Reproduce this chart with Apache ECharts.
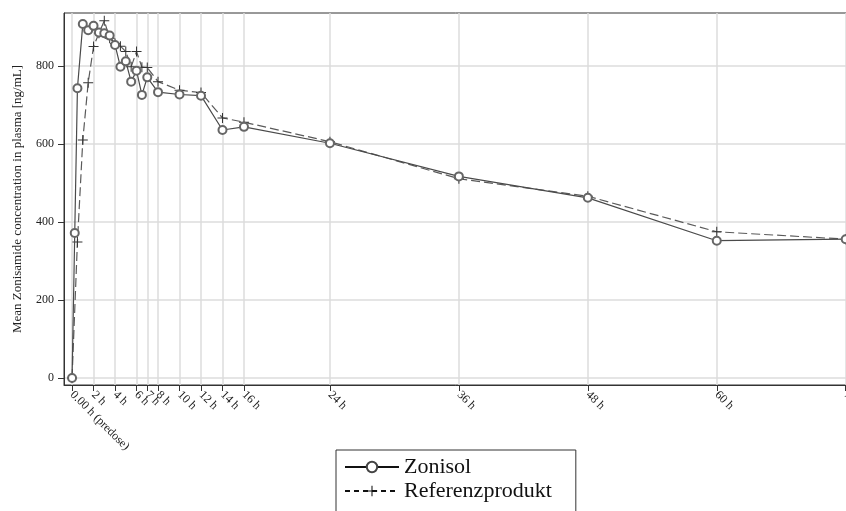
<!DOCTYPE html>
<html>
<head>
<meta charset="utf-8">
<script src="https://cdn.jsdelivr.net/npm/echarts@6/dist/echarts.min.js"></script>
<style>
  html, body { margin: 0; padding: 0; background: #fff; }
  #chart { width: 846px; height: 511px; }
</style>
</head>
<body>
<div id="chart"></div>
<script>
// sampling times in hours
const zonisolHours = [0, 0.25, 0.5, 1, 1.5, 2, 2.5, 3, 3.5, 4, 4.5, 5, 5.5, 6, 6.5, 7, 8, 10, 12, 14, 16, 24, 36, 48, 60, 72]
const zonisolConc = [0, 372, 743, 908, 892, 903, 886, 884, 878, 854, 798, 812, 760, 788, 726, 771, 733, 727, 724, 636, 644, 602, 517, 462, 352, 356]

const refHours = [0, 0.5, 1, 1.5, 2, 2.5, 3, 3.5, 4, 4.5, 5, 5.5, 6, 6.5, 7, 8, 10, 12, 14, 16, 24, 36, 48, 60, 72]
const refConc = [0, 349, 610, 757, 850, 884, 916, 871, 858, 851, 837, 798, 837, 797, 796, 760, 738, 732, 667, 656, 606, 511, 466, 375, 356]

const xTicks = [0, 2, 4, 6, 7, 8, 10, 12, 14, 16, 24, 36, 48, 60, 72]
const yTicks = [0, 200, 400, 600, 800]

const serif = 'Liberation Serif'

const myChart = echarts.init(document.getElementById('chart'))
const option = {
  animation: false,
  grid: {
    left: 64,
    top: 13,
    right: -4,
    bottom: 126,
    show: true,
    borderColor: '#333',
    borderWidth: 1,
    outerBoundsMode: 'none'
  },
  legend: {
    orient: 'vertical',
    left: 336,
    top: 450,
    height: 90,
    padding: [6, 24, 30, 8],
    itemGap: 2,
    itemWidth: 54,
    itemHeight: 13,
    borderColor: '#333',
    borderWidth: 1,
    textStyle: { fontFamily: serif, fontSize: 22, color: '#111' },
    data: [
      { name: 'Zonisol', lineStyle: { width: 2, color: '#111', type: 'solid' }, itemStyle: { color: '#444', borderColor: '#444', borderWidth: 1.2 } },
      { name: 'Referenzprodukt', lineStyle: { width: 2, color: '#111', type: [5, 4] }, itemStyle: { color: '#111' } }
    ]
  },
  xAxis: {
    type: 'value',
    min: -0.75,
    max: 72.4,
    axisLine: { onZero: false, lineStyle: { color: '#333', width: 1 } },
    axisTick: { customValues: xTicks, length: 6, lineStyle: { color: '#333' } },
    axisLabel: {
      customValues: xTicks,
      rotate: -45,
      margin: 8,
      fontFamily: serif,
      fontSize: 12,
      color: '#222',
      formatter: v => (v === 0 ? '0.00 h (predose)' : v + ' h')
    },
    splitLine: { show: true, lineStyle: { color: '#dcdcdc', width: 1.5 } }
  },
  yAxis: {
    type: 'value',
    min: -18,
    max: 936,
    name: 'Mean Zonisamide concentration in plasma [ng/mL]',
    nameLocation: 'middle',
    nameGap: 40,
    nameTextStyle: { fontFamily: serif, fontSize: 13, color: '#222' },
    axisLine: { show: true, onZero: false, lineStyle: { color: '#333', width: 1 } },
    axisTick: { show: true, customValues: yTicks, length: 6, lineStyle: { color: '#333' } },
    axisLabel: { customValues: yTicks, margin: 10, fontFamily: serif, fontSize: 12, color: '#222' },
    splitLine: { show: true, lineStyle: { color: '#dcdcdc', width: 1.5 } }
  },
  series: [
    {
      name: 'Zonisol',
      type: 'line',
      data: zonisolHours.map((t, i) => [t, zonisolConc[i]]),
      symbol: 'emptyCircle',
      symbolSize: 8,
      showAllSymbol: true,
      lineStyle: { color: '#4a4a4a', width: 1.2 },
      itemStyle: { color: '#666', borderWidth: 0.9 },
      z: 3
    },
    {
      name: 'Referenzprodukt',
      type: 'line',
      data: refHours.map((t, i) => [t, refConc[i]]),
      symbol: 'path://M4.5,0H5.5V4.5H10V5.5H5.5V10H4.5V5.5H0V4.5H4.5Z',
      symbolSize: 10,
      showAllSymbol: true,
      lineStyle: { color: '#5a5a5a', width: 1.2, type: [9, 4] },
      itemStyle: { color: '#333' },
      z: 2
    }
  ]
}
myChart.setOption(option)
</script>
</body>
</html>
